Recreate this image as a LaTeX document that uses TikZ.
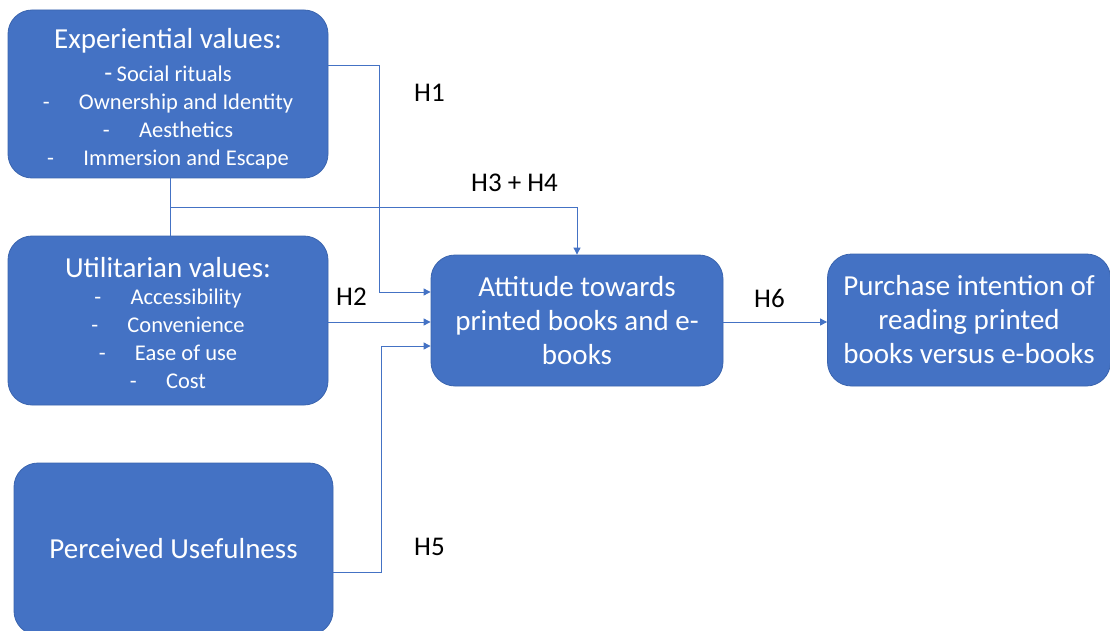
\documentclass[tikz,border=0pt]{standalone}
\usepackage{fontspec}
\setmainfont{Carlito}
\definecolor{boxblue}{HTML}{4472C4}
\definecolor{boxedge}{HTML}{3A64AE}
\definecolor{lineblue}{HTML}{4472C4}
\usetikzlibrary{arrows.meta}
\newcommand{\bigf}{\fontsize{29}{34}\selectfont}
\newcommand{\smf}{\fontsize{22.5}{28}\selectfont}
\begin{document}
\begin{tikzpicture}[x=1pt,y=-1pt,
  box/.style={draw=boxedge,line width=0.8pt,fill=boxblue,rounded corners=24pt,text=white,align=center,inner sep=0pt},
  conn/.style={draw=lineblue,line width=0.9pt},
  arr/.style={conn,-{Triangle[length=7pt,width=7pt]}},
  hlab/.style={font=\fontsize{27}{30}\selectfont,anchor=west,inner sep=0pt}]
\useasboundingbox (0,0) rectangle (1110,631);
\node[box,minimum width=320pt,minimum height=168pt] (exp) at (168,94) {};
\node[text=white,align=center,inner sep=0pt,font=\smf] (expt) at (168,98.5) {\bigf Experiential values:\\[5pt]
\smf {\fontsize{26}{28}\selectfont -}\hspace{0.2em}Social rituals\\
-\hspace{1.3em}Ownership and Identity\\
-\hspace{1.3em}Aesthetics\\
-\hspace{1.3em}Immersion and Escape};
\node[box,minimum width=320pt,minimum height=169pt] (util) at (168,320.5) {};
\node[text=white,align=center,inner sep=0pt,font=\smf] (utilt) at (168,323) {\bigf Utilitarian values:\\[-1pt]
\smf -\hspace{1.3em}Accessibility\\
-\hspace{1.3em}Convenience\\
-\hspace{1.3em}Ease of use\\
-\hspace{1.3em}Cost};
\node[box,minimum width=319pt,minimum height=172pt,font=\bigf] (pu) at (173.5,549) {Perceived Usefulness};
\node[box,minimum width=292pt,minimum height=131pt,font=\fontsize{29}{34}\selectfont] (att) at (577,320.5) {Attitude towards\\printed books and e-\\books};
\node[box,minimum width=283pt,minimum height=132pt,font=\fontsize{29}{34}\selectfont] (pi) at (969,320) {Purchase intention of\\reading printed\\books versus e-books};
\coordinate (h1a) at (379,65);
\coordinate (h1b) at (379,292);
\draw[arr] (exp.east |- h1a) -- (h1a) -- (h1b) -- (att.west |- h1b);
\coordinate (j) at (170,207);
\coordinate (k) at (577,207);
\draw[conn] (exp.south -| j) -- (util.north -| j);
\draw[arr] (j) -- (k) -- (att.north -| k);
\coordinate (h2) at (340,322);
\draw[arr] (util.east |- h2) -- (att.west |- h2);
\coordinate (h5a) at (381,572);
\coordinate (h5b) at (381,346);
\draw[arr] (pu.east |- h5a) -- (h5a) -- (h5b) -- (att.west |- h5b);
\draw[arr] (att.east |- h2) -- (pi.west |- h2);
\node[hlab] (l1) at (414,93) {H1};
\node[hlab] (l34) at (471,183) {H3 + H4};
\node[hlab] (l2) at (336,297) {H2};
\node[hlab] (l5) at (414,547) {H5};
\node[hlab] (l6) at (754,298) {H6};
\end{tikzpicture}
\end{document}
